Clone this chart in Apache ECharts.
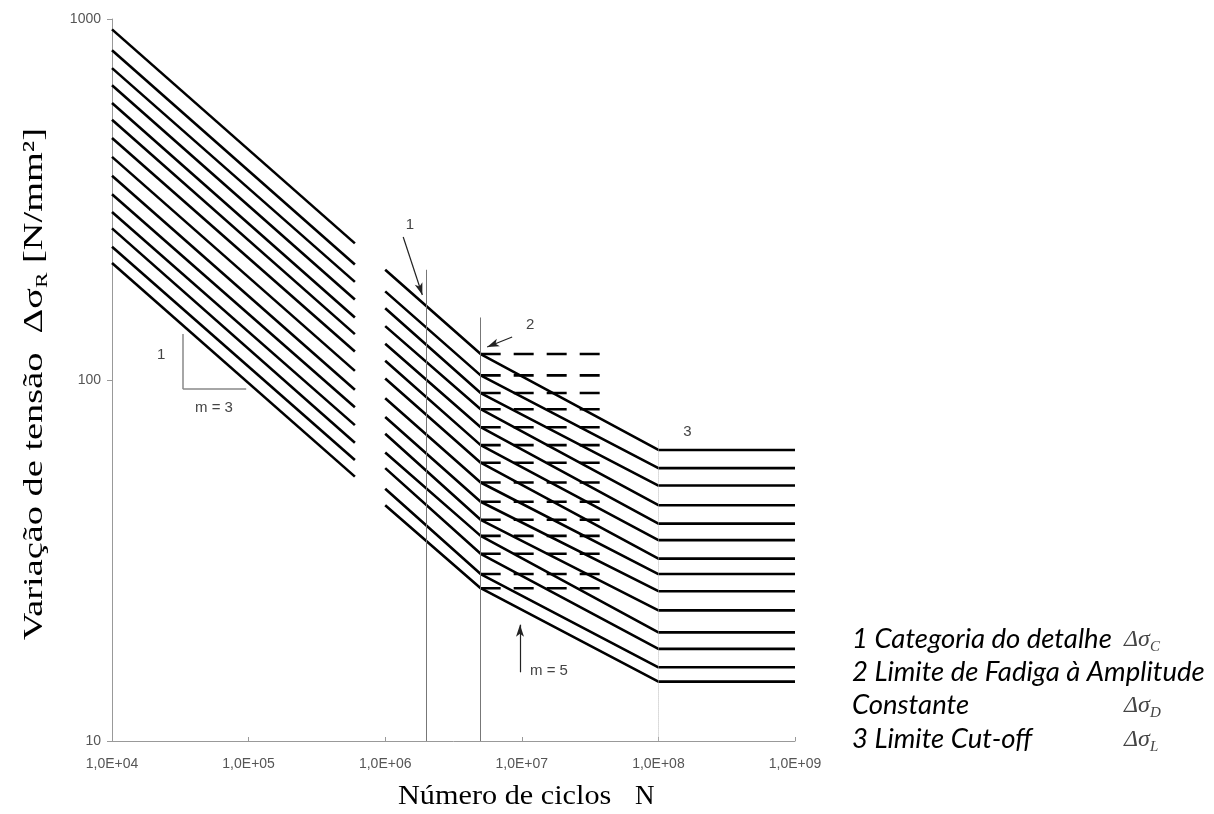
<!DOCTYPE html>
<html><head><meta charset="utf-8">
<script src="https://cdn.jsdelivr.net/npm/echarts@6/dist/echarts.min.js"></script>
<style>html,body{margin:0;padding:0;background:#fff}#c{width:1214px;height:814px}</style>
</head><body><div id="c"></div>
<script>
// Detail categories (Δσ_C, N/mm²)
const categories = [160,140,125,112,100,90,80,71,63,56,50,45,40,36];
// Stress range read at each breakpoint of every curve
const sAt1e4 = [936,819,731,655,585,526,468,415,368,327,292,263,234,211];
const sAt6e5 = [239,209,187,167,149,134,120,106,94,84,75,67,60,54];
const sAt1e6 = [202,176,158,141,126,113,101,89,79,71,63,57,50,45];
const sigmaD = [118,103,92,83,74,66,59,52,46,41,37,33,29,26.5];
const sigmaL = [64,57,51,45,40,36,32,29,26,23,20,18,16,14.6];
// Breakpoints on the N axis
const nStart = 1e4, nEnd1 = 6e5, nStart2 = 1e6, nD = 5e6, nL = 1e8, nMax = 1e9, nDashEnd = 3.75e7;
const xTicks = ['1,0E+04','1,0E+05','1,0E+06','1,0E+07','1,0E+08','1,0E+09'];
const yTicks = ['10','100','1000'];

const series = [];
categories.forEach((c, i) => {
  series.push({
    type: 'line', symbol: 'none', silent: true,
    lineStyle: {color: '#000', width: 2.6},
    data: [[nStart, sAt1e4[i]], [nEnd1, sAt6e5[i]]]
  });
  series.push({
    type: 'line', symbol: 'none', silent: true,
    lineStyle: {color: '#000', width: 2.6},
    data: [
      {value: [nStart2, sAt1e6[i]], label: {show: true, formatter: String(c), position: 'left', distance: 2, offset: [0, -7], color: '#333', fontSize: 15, fontFamily: 'Liberation Sans'}},
      [nD, sigmaD[i]], [nL, sigmaL[i]], [nMax, sigmaL[i]]
    ]
  });
  series.push({
    type: 'line', symbol: 'none', silent: true,
    lineStyle: {color: '#000', width: 2.6, type: [20, 13]},
    data: [[nD, sigmaD[i]], [nDashEnd, sigmaD[i]]]
  });
});

const grey = '#777';
const txt = (coord, t) => ({coord, value: t, symbol: 'circle', symbolSize: 0,
  label: {show: true, position: 'inside', formatter: t, color: '#444', fontSize: 15, fontFamily: 'Liberation Sans'}});
series.push({
  type: 'line', symbol: 'none', silent: true, data: [[nMax, 10]], lineStyle: {opacity: 0},
  markLine: {
    silent: true, symbol: ['none', 'none'], label: {show: false},
    lineStyle: {color: grey, width: 1, type: 'solid'},
    data: [
      [{coord: [2e6, 202]}, {coord: [2e6, 10]}],
      [{coord: [5e6, 149]}, {coord: [5e6, 10]}],
      [{coord: [1e8, 68], lineStyle: {type: 'dotted', color: '#bbb'}}, {coord: [1e8, 10]}],
      [{coord: [3.3e4, 134], lineStyle: {color: '#888', width: 1.5}}, {coord: [3.3e4, 94.4]}],
      [{coord: [3.3e4, 94.4], lineStyle: {color: '#888', width: 1.5}}, {coord: [9.6e4, 94.4]}],
      [{coord: [1.355e6, 249], lineStyle: {color: '#222', width: 1.2}}, {coord: [1.87e6, 172], symbol: 'arrow', symbolSize: [6, 12]}],
      [{coord: [8.5e6, 131.6], lineStyle: {color: '#222', width: 1.2}}, {coord: [5.58e6, 123.4], symbol: 'arrow', symbolSize: [6, 12]}],
      [{coord: [9.7e6, 15.5], lineStyle: {color: '#222', width: 1.2}}, {coord: [9.7e6, 21.0], symbol: 'arrow', symbolSize: [6, 12]}]
    ]
  },
  markPoint: {
    silent: true,
    data: [
      txt([2.29e4, 117.3], '1'),
      txt([5.58e4, 83.7], 'm = 3'),
      txt([1.52e6, 268.8], '1'),
      txt([1.15e7, 142], '2'),
      txt([1.63e8, 71.8], '3'),
      txt([1.58e7, 15.6], 'm = 5'),
      txt([2.0e6, 9.09], '2'),
      txt([4.41e6, 9.26], '5')
    ]
  }
});

const legendFont = 'italic 27.5px Lato';
const deltaRich = {
  d: {fontFamily: 'Liberation Serif', fontStyle: 'italic', fontSize: 24, lineHeight: 30, fill: '#444'},
  s: {fontFamily: 'Liberation Serif', fontStyle: 'italic', fontSize: 15, lineHeight: 30, verticalAlign: 'bottom', padding: [10, 0, 0, 0], fill: '#444'}
};

const chart = echarts.init(document.getElementById('c'), null, {renderer: 'canvas'});
chart.setOption({
  animation: false,
  backgroundColor: '#fff',
  grid: {left: 112, right: 419, top: 19, bottom: 73},
  xAxis: {
    type: 'log', logBase: 10, min: 1e4, max: 1e9,
    axisLine: {show: true, lineStyle: {color: '#999', width: 1}},
    axisTick: {show: true, inside: true, length: 4, lineStyle: {color: '#999'}},
    splitLine: {show: false}, minorTick: {show: false},
    axisLabel: {color: '#555', fontSize: 14, fontFamily: 'Liberation Sans', margin: 16,
      formatter: v => xTicks[Math.round(Math.log10(v)) - 4]}
  },
  yAxis: {
    type: 'log', logBase: 10, min: 10, max: 1000,
    axisLine: {show: true, lineStyle: {color: '#999', width: 1}},
    axisTick: {show: true, length: 5, lineStyle: {color: '#999'}},
    splitLine: {show: false},
    axisLabel: {color: '#555', fontSize: 14, fontFamily: 'Liberation Sans', margin: 11,
      formatter: v => yTicks[Math.round(Math.log10(v)) - 1]}
  },
  graphic: [
    {type: 'text', x: 34.5, y: 384, rotation: Math.PI / 2, scaleX: 1.37, silent: true,
      style: {text: '{a|Variação de tensão  Δσ}{s|R}{a| [N/mm²]}', align: 'center', verticalAlign: 'middle', fill: '#000',
        rich: {a: {fontFamily: 'Liberation Serif', fontSize: 28, lineHeight: 34, fill: '#000'},
               s: {fontFamily: 'Liberation Serif', fontSize: 17, lineHeight: 34, verticalAlign: 'bottom', padding: [11, 0, 0, 0], fill: '#000'}}}},
    {type: 'text', x: 398, y: 797, scaleX: 1.12, silent: true,
      style: {text: 'Número de ciclos', align: 'left', verticalAlign: 'middle', fill: '#000', font: '27px "Liberation Serif"'}},
    {type: 'text', x: 635, y: 797, silent: true,
      style: {text: 'N', align: 'left', verticalAlign: 'middle', fill: '#000', font: '27px "Liberation Serif"'}},
    {type: 'text', x: 852, y: 639, silent: true,
      style: {text: '1 Categoria do detalhe', align: 'left', verticalAlign: 'middle', fill: '#000', font: legendFont}},
    {type: 'text', x: 852, y: 672, silent: true,
      style: {text: '2 Limite de Fadiga à Amplitude', align: 'left', verticalAlign: 'middle', fill: '#000', font: legendFont}},
    {type: 'text', x: 852, y: 705, silent: true,
      style: {text: 'Constante', align: 'left', verticalAlign: 'middle', fill: '#000', font: legendFont}},
    {type: 'text', x: 852, y: 739, silent: true,
      style: {text: '3 Limite Cut-off', align: 'left', verticalAlign: 'middle', fill: '#000', font: legendFont}},
    {type: 'text', x: 1124, y: 640, silent: true,
      style: {text: '{d|Δσ}{s|C}', align: 'left', verticalAlign: 'middle', rich: deltaRich}},
    {type: 'text', x: 1124, y: 706, silent: true,
      style: {text: '{d|Δσ}{s|D}', align: 'left', verticalAlign: 'middle', rich: deltaRich}},
    {type: 'text', x: 1124, y: 740, silent: true,
      style: {text: '{d|Δσ}{s|L}', align: 'left', verticalAlign: 'middle', rich: deltaRich}}
  ],
  series
});
</script></body></html>
